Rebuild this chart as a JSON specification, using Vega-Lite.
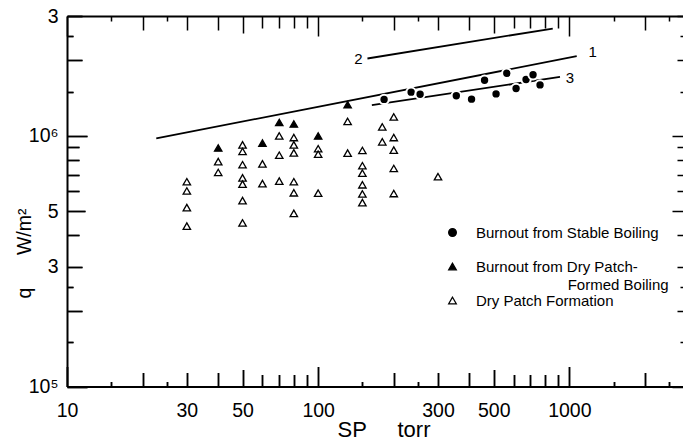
{
  "$schema": "https://vega.github.io/schema/vega-lite/v6.json",
  "width": 616,
  "height": 370.5,
  "autosize": "none",
  "padding": {"left": 67, "top": 16, "right": 0, "bottom": 57.5},
  "background": "white",
  "config": {"view": {"stroke": null}, "font": "Liberation Sans"},
  "resolve": {"axis": {"x": "independent", "y": "independent"}},
  "layer": [
    {
      "data": {"values": [
        {"line": "1", "sp": 22.67, "q": 975000},
        {"line": "1", "sp": 1070, "q": 2074000},
        {"line": "2", "sp": 157.1, "q": 2031000},
        {"line": "2", "sp": 859, "q": 2674000},
        {"line": "3", "sp": 163.6, "q": 1323000},
        {"line": "3", "sp": 918, "q": 1715000}
      ]},
      "mark": {"type": "line", "color": "black", "strokeWidth": 1.8},
      "encoding": {
        "x": {"field": "sp", "type": "quantitative", "scale": {"type": "log", "domain": [10, 2835], "nice": false}, "axis": null},
        "y": {"field": "q", "type": "quantitative", "scale": {"type": "log", "domain": [100000, 3000000], "nice": false}, "axis": null},
        "detail": {"field": "line"}
      }
    },
    {
      "data": {"values": [
        {"sp": 183, "q": 1395000, "type": "Burnout from Stable Boiling"},
        {"sp": 234.5, "q": 1491000, "type": "Burnout from Stable Boiling"},
        {"sp": 254.6, "q": 1463000, "type": "Burnout from Stable Boiling"},
        {"sp": 354.8, "q": 1443000, "type": "Burnout from Stable Boiling"},
        {"sp": 408, "q": 1398000, "type": "Burnout from Stable Boiling"},
        {"sp": 459.7, "q": 1664000, "type": "Burnout from Stable Boiling"},
        {"sp": 510.8, "q": 1467000, "type": "Burnout from Stable Boiling"},
        {"sp": 563.6, "q": 1774000, "type": "Burnout from Stable Boiling"},
        {"sp": 613.7, "q": 1542000, "type": "Burnout from Stable Boiling"},
        {"sp": 672.4, "q": 1675000, "type": "Burnout from Stable Boiling"},
        {"sp": 717, "q": 1750000, "type": "Burnout from Stable Boiling"},
        {"sp": 764.5, "q": 1594000, "type": "Burnout from Stable Boiling"},
        {"sp": 40, "q": 893000, "type": "Burnout from Dry Patch-Formed Boiling"},
        {"sp": 60, "q": 934000, "type": "Burnout from Dry Patch-Formed Boiling"},
        {"sp": 70, "q": 1129000, "type": "Burnout from Dry Patch-Formed Boiling"},
        {"sp": 80, "q": 1114000, "type": "Burnout from Dry Patch-Formed Boiling"},
        {"sp": 100, "q": 997000, "type": "Burnout from Dry Patch-Formed Boiling"},
        {"sp": 131, "q": 1329000, "type": "Burnout from Dry Patch-Formed Boiling"},
        {"sp": 30, "q": 655600, "type": "Dry Patch Formation"},
        {"sp": 30, "q": 602200, "type": "Dry Patch Formation"},
        {"sp": 30, "q": 516700, "type": "Dry Patch Formation"},
        {"sp": 30, "q": 436000, "type": "Dry Patch Formation"},
        {"sp": 40, "q": 788000, "type": "Dry Patch Formation"},
        {"sp": 40, "q": 713500, "type": "Dry Patch Formation"},
        {"sp": 50, "q": 919000, "type": "Dry Patch Formation"},
        {"sp": 50, "q": 865000, "type": "Dry Patch Formation"},
        {"sp": 50, "q": 766000, "type": "Dry Patch Formation"},
        {"sp": 50, "q": 679000, "type": "Dry Patch Formation"},
        {"sp": 50, "q": 641000, "type": "Dry Patch Formation"},
        {"sp": 50, "q": 551000, "type": "Dry Patch Formation"},
        {"sp": 50, "q": 449000, "type": "Dry Patch Formation"},
        {"sp": 60, "q": 772000, "type": "Dry Patch Formation"},
        {"sp": 60, "q": 644000, "type": "Dry Patch Formation"},
        {"sp": 70, "q": 998000, "type": "Dry Patch Formation"},
        {"sp": 70, "q": 836000, "type": "Dry Patch Formation"},
        {"sp": 70, "q": 659000, "type": "Dry Patch Formation"},
        {"sp": 80, "q": 983000, "type": "Dry Patch Formation"},
        {"sp": 80, "q": 919000, "type": "Dry Patch Formation"},
        {"sp": 80, "q": 854000, "type": "Dry Patch Formation"},
        {"sp": 80, "q": 655600, "type": "Dry Patch Formation"},
        {"sp": 80, "q": 592000, "type": "Dry Patch Formation"},
        {"sp": 80, "q": 490000, "type": "Dry Patch Formation"},
        {"sp": 100, "q": 887400, "type": "Dry Patch Formation"},
        {"sp": 100, "q": 844000, "type": "Dry Patch Formation"},
        {"sp": 100, "q": 590000, "type": "Dry Patch Formation"},
        {"sp": 131, "q": 1140000, "type": "Dry Patch Formation"},
        {"sp": 131, "q": 852000, "type": "Dry Patch Formation"},
        {"sp": 150, "q": 873000, "type": "Dry Patch Formation"},
        {"sp": 150, "q": 759000, "type": "Dry Patch Formation"},
        {"sp": 150, "q": 709000, "type": "Dry Patch Formation"},
        {"sp": 150, "q": 637000, "type": "Dry Patch Formation"},
        {"sp": 150, "q": 586000, "type": "Dry Patch Formation"},
        {"sp": 150, "q": 541000, "type": "Dry Patch Formation"},
        {"sp": 180, "q": 1084000, "type": "Dry Patch Formation"},
        {"sp": 180, "q": 945000, "type": "Dry Patch Formation"},
        {"sp": 200, "q": 1188000, "type": "Dry Patch Formation"},
        {"sp": 200, "q": 983000, "type": "Dry Patch Formation"},
        {"sp": 200, "q": 876000, "type": "Dry Patch Formation"},
        {"sp": 200, "q": 740000, "type": "Dry Patch Formation"},
        {"sp": 200, "q": 588000, "type": "Dry Patch Formation"},
        {"sp": 300, "q": 686500, "type": "Dry Patch Formation"}
      ]},
      "mark": {"type": "point", "opacity": 1},
      "encoding": {
        "x": {"field": "sp", "type": "quantitative",
          "scale": {"type": "log", "domain": [10, 2835], "nice": false},
          "axis": {"orient": "bottom", "ticks": true,
            "values": [10,15,20,25,30,40,50,60,70,80,90,100,150,200,250,300,400,500,600,700,800,900,1000,1500,2000,2500],
            "grid": true, "gridColor": "black", "gridWidth": 1.5, "gridOpacity": 1,
            "gridDash": {"condition": [
              {"test": "indexof([10,100,1000],datum.value)>=0", "value": [20, 330.5, 20, 10]},
              {"test": "indexof([50,500],datum.value)>=0", "value": [17, 336.5, 17, 10]},
              {"test": "indexof([20,30,40,200,300,400,2000],datum.value)>=0", "value": [14, 342.5, 14, 10]},
              {"test": "indexof([15,25,150,250,1500,2500],datum.value)>=0", "value": [5, 360.5, 5, 10]}], "value": [12, 346.5, 12, 10]},
            "tickSize": {"condition": [
              {"test": "indexof([10,100,1000],datum.value)>=0", "value": -20},
              {"test": "indexof([50,500],datum.value)>=0", "value": -17},
              {"test": "indexof([20,30,40,200,300,400,2000],datum.value)>=0", "value": -14},
              {"test": "indexof([15,25,150,250,1500,2500],datum.value)>=0", "value": -5}], "value": -12},
            "labelPadding": {"condition": [
              {"test": "indexof([10,100,1000],datum.value)>=0", "value": 35},
              {"test": "indexof([50,500],datum.value)>=0", "value": 32},
              {"test": "indexof([20,30,40,200,300,400,2000],datum.value)>=0", "value": 29}], "value": 27},
            "labelExpr": "indexof([10,30,50,100,300,500,1000],datum.value)>=0 ? '' + datum.value : ''",
            "labelFont": "Liberation Sans", "labelFontSize": 19.5, "labelColor": "black", "labelBaseline": "top",
            "labelFlush": false, "labelOverlap": false, "labelBound": false,
            "tickColor": "black", "tickWidth": 1.5, "tickOpacity": 1, "domainColor": "black", "domainWidth": 2,
            "title": "SP\u00a0\u00a0\u00a0\u00a0\u00a0torr", "titleFont": "Liberation Sans", "titleFontSize": 22, "titleFontWeight": "normal", "titleColor": "black",
            "titleX": 316.5, "titleY": 50, "titleBaseline": "alphabetic"}},
        "y": {"field": "q", "type": "quantitative",
          "scale": {"type": "log", "domain": [100000, 3000000], "nice": false},
          "axis": {"orient": "left", "ticks": true,
            "values": [100000,150000,200000,250000,300000,400000,500000,600000,700000,800000,900000,1000000,1500000,2000000,2500000,3000000],
            "grid": true, "gridColor": "black", "gridWidth": 1.5, "gridOpacity": 1,
            "gridDash": {"condition": [
              {"test": "indexof([100000,1000000],datum.value)>=0", "value": [20, 585, 11, 10]},
              {"test": "datum.value==500000", "value": [18, 587, 11, 10]},
              {"test": "indexof([200000,300000,2000000,3000000],datum.value)>=0", "value": [15, 595, 6, 10]},
              {"test": "indexof([150000,250000,1500000,2500000],datum.value)>=0", "value": [6, 607, 3, 10]}], "value": [12, 598, 6, 10]},
            "tickSize": {"expr": "indexof([100000,1000000],datum.value)>=0 ? -20 : datum.value==500000 ? -18 : indexof([200000,300000,2000000,3000000],datum.value)>=0 ? -15 : indexof([150000,250000,1500000,2500000],datum.value)>=0 ? -6 : -12"},
            "labelPadding": {"expr": "9 - (indexof([100000,1000000],datum.value)>=0 ? -20 : datum.value==500000 ? -18 : indexof([200000,300000,2000000,3000000],datum.value)>=0 ? -15 : indexof([150000,250000,1500000,2500000],datum.value)>=0 ? -6 : -12)"},
            "labelExpr": "datum.value==3000000 ? '3' : datum.value==1000000 ? '10\u2076' : datum.value==500000 ? '5' : datum.value==300000 ? '3' : datum.value==100000 ? '10\u2075' : ''",
            "labelFont": "Liberation Sans", "labelFontSize": 19.5, "labelColor": "black",
            "labelFlush": false, "labelOverlap": false, "labelBound": false,
            "tickColor": "black", "tickWidth": 1.5, "tickOpacity": 1, "domainColor": "black", "domainWidth": 2,
            "title": "q\u00a0\u00a0\u00a0\u00a0\u00a0\u00a0W/m\u00b2", "titleFont": "Liberation Sans", "titleFontSize": 19.5, "titleFontWeight": "normal", "titleColor": "black",
            "titleX": -37, "titleY": 237, "titleBaseline": "alphabetic", "titleAngle": -90}},
        "shape": {"field": "type", "type": "nominal",
          "scale": {"domain": ["Burnout from Stable Boiling", "Burnout from Dry Patch-Formed Boiling", "Dry Patch Formation"], "range": ["circle", "triangle-up", "triangle-up"]},
          "legend": {"orient": "none", "legendX": 378, "legendY": 209, "title": null, "padding": 0,
            "labelFont": "Liberation Sans", "labelFontSize": 15, "labelColor": "black", "labelOffset": 16, "labelLimit": 400,
            "symbolSize": 60, "symbolStrokeWidth": 1.2, "symbolStrokeColor": "black", "symbolOpacity": 1, "rowPadding": -4, "gridAlign": "all",
            "encoding": {"symbols": {"stroke": {"value": "black"}, "strokeWidth": {"value": 1.2}}, "labels": {"lineHeight": {"value": 18}}},
            "labelExpr": "datum.value == 'Burnout from Dry Patch-Formed Boiling' ? ['Burnout from Dry Patch-', '\u200b\u00a0\u00a0\u00a0\u00a0\u00a0\u00a0\u00a0\u00a0\u00a0\u00a0\u00a0\u00a0\u00a0\u00a0\u00a0\u00a0\u00a0\u00a0\u00a0\u00a0\u00a0\u00a0Formed Boiling'] : datum.label"}},
        "fill": {"field": "type", "type": "nominal",
          "scale": {"domain": ["Burnout from Stable Boiling", "Burnout from Dry Patch-Formed Boiling", "Dry Patch Formation"], "range": ["black", "black", "white"]},
          "legend": {"orient": "none", "legendX": 378, "legendY": 209, "title": null, "padding": 0,
            "labelFont": "Liberation Sans", "labelFontSize": 15, "labelColor": "black", "labelOffset": 16, "labelLimit": 400,
            "symbolSize": 60, "symbolStrokeWidth": 1.2, "symbolStrokeColor": "black", "symbolOpacity": 1, "rowPadding": -4, "gridAlign": "all",
            "encoding": {"symbols": {"stroke": {"value": "black"}, "strokeWidth": {"value": 1.2}}, "labels": {"lineHeight": {"value": 18}}},
            "labelExpr": "datum.value == 'Burnout from Dry Patch-Formed Boiling' ? ['Burnout from Dry Patch-', '\u200b\u00a0\u00a0\u00a0\u00a0\u00a0\u00a0\u00a0\u00a0\u00a0\u00a0\u00a0\u00a0\u00a0\u00a0\u00a0\u00a0\u00a0\u00a0\u00a0\u00a0\u00a0\u00a0Formed Boiling'] : datum.label"}},
        "stroke": {"condition": {"test": "datum.type == 'Burnout from Stable Boiling'", "value": "white"}, "value": "black"},
        "strokeWidth": {"condition": {"test": "datum.type == 'Burnout from Stable Boiling'", "value": 2}, "value": 1.3},
        "size": {"condition": {"test": "datum.type == 'Burnout from Stable Boiling'", "value": 88}, "value": 55}
      }
    },
    {
      "data": {"values": [
        {"label": "1", "sp": 1239, "q": 2158000},
        {"label": "2", "sp": 144.7, "q": 2018000},
        {"label": "3", "sp": 1006.5, "q": 1700000}
      ]},
      "mark": {"type": "text", "font": "Liberation Sans", "fontSize": 15, "color": "black", "align": "center", "baseline": "middle"},
      "encoding": {
        "x": {"field": "sp", "type": "quantitative",
          "scale": {"type": "log", "domain": [10, 2835], "nice": false},
          "axis": {"orient": "bottom", "offset": -370.5, "title": "", "grid": false, "ticks": false, "labels": false,
            "domainColor": "black", "domainWidth": 2}},
        "y": {"field": "q", "type": "quantitative", "scale": {"type": "log", "domain": [100000, 3000000], "nice": false}, "axis": null},
        "text": {"field": "label"}
      }
    }
  ]
}
